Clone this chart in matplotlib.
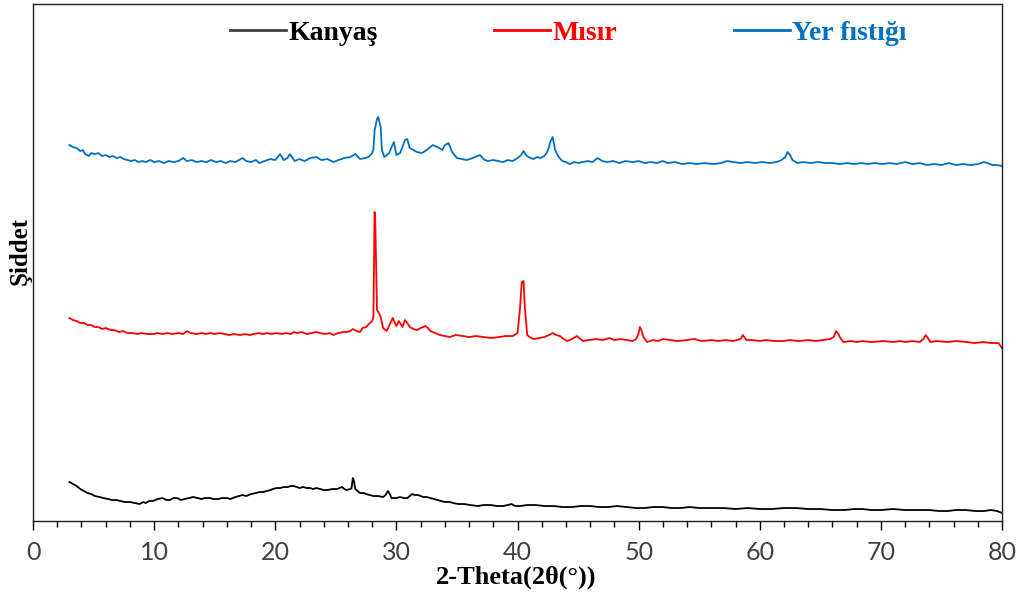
import numpy as np
import matplotlib
matplotlib.use("Agg")
import matplotlib.pyplot as plt
from matplotlib.ticker import MultipleLocator

# (2-theta in deg, intensity in arbitrary units)
kanyas = [(3.0, 37), (3.3, 35), (3.6, 33), (3.9, 30), (4.2, 28), (4.5, 26), (4.8, 25), (5.1, 23),
          (5.5, 22), (5.8, 21), (6.2, 20), (6.5, 19), (6.9, 19), (7.2, 18), (7.6, 17), (8.0, 17),
          (8.4, 16), (8.8, 15), (9.1, 17), (9.3, 16), (9.6, 18), (9.9, 18), (10.3, 20), (10.7, 21),
          (11.0, 19), (11.3, 19), (11.6, 21), (11.9, 21), (12.2, 19), (12.5, 20), (12.9, 21),
          (13.2, 22), (13.6, 21), (13.9, 20), (14.2, 21), (14.6, 21), (14.9, 20), (15.3, 20),
          (15.6, 21), (16.0, 21), (16.3, 20), (16.7, 22), (17.0, 23), (17.3, 24), (17.6, 23),
          (18.0, 25), (18.4, 26), (18.7, 27), (19.0, 27), (19.3, 28), (19.6, 29), (19.8, 30),
          (20.1, 31), (20.4, 31), (20.7, 32), (21.0, 32), (21.3, 33), (21.5, 33), (21.8, 32),
          (22.0, 31), (22.3, 32), (22.6, 31), (22.9, 31), (23.1, 30), (23.4, 31), (23.7, 30),
          (24.0, 29), (24.3, 29), (24.7, 30), (25.1, 30), (25.3, 31), (25.5, 32), (25.7, 30),
          (25.9, 29), (26.2, 30), (26.3, 31), (26.4, 41), (26.5, 38), (26.6, 30), (26.8, 28),
          (27.0, 26), (27.3, 26), (27.5, 25), (27.8, 24), (28.1, 23), (28.5, 23), (28.9, 22),
          (29.1, 24), (29.3, 28), (29.45, 25), (29.6, 21), (30.0, 21), (30.3, 22), (30.6, 21),
          (30.9, 21), (31.1, 23), (31.3, 25), (31.5, 24), (31.8, 24), (32.0, 23), (32.2, 22),
          (32.5, 22), (32.8, 21), (33.1, 20), (33.4, 19), (33.7, 18), (34.0, 17), (34.4, 17),
          (34.7, 16), (35.1, 15), (35.6, 15), (36.1, 14), (36.7, 13), (37.2, 14), (37.8, 14),
          (38.3, 13), (38.8, 13), (39.2, 14), (39.5, 15), (39.8, 13), (40.2, 13), (40.8, 14),
          (41.5, 14), (42.2, 13), (43.0, 13), (43.7, 12), (44.5, 12), (45.2, 13), (46.0, 13),
          (46.7, 12), (47.5, 12), (48.2, 13), (49.0, 12), (49.8, 11), (50.5, 11), (51.2, 12),
          (52.0, 12), (52.7, 11), (53.5, 11), (54.2, 12), (55.0, 11), (56.0, 11), (57.0, 11),
          (58.0, 10), (59.0, 11), (60.0, 10), (61.0, 10), (62.0, 11), (63.0, 11), (64.0, 10),
          (65.0, 10), (66.0, 9), (67.0, 9), (67.8, 10), (68.5, 10), (69.2, 9), (70.0, 9),
          (71.0, 10), (72.0, 9), (73.0, 9), (74.0, 9), (74.8, 8), (75.5, 8), (76.2, 9), (77.0, 9),
          (77.8, 8), (78.5, 8), (79.1, 9), (79.6, 8), (80.0, 6)]

misir = [(3.0, 201), (3.3, 199), (3.6, 198), (3.9, 196), (4.2, 196), (4.5, 194), (4.8, 194),
         (5.1, 192), (5.4, 192), (5.7, 190), (6.0, 191), (6.4, 189), (6.7, 189), (7.1, 187),
         (7.4, 188), (7.8, 186), (8.2, 186), (8.6, 185), (9.0, 186), (9.4, 185), (9.9, 185),
         (10.3, 186), (10.7, 185), (11.1, 186), (11.5, 185), (12.0, 186), (12.4, 185), (12.7, 188),
         (13.0, 186), (13.5, 185), (13.9, 186), (14.3, 185), (14.6, 186), (15.0, 185), (15.4, 186),
         (15.8, 185), (16.2, 184), (16.6, 185), (17.1, 184), (17.5, 185), (17.9, 184), (18.2, 185),
         (18.6, 186), (19.0, 185), (19.3, 186), (19.7, 185), (20.1, 186), (20.5, 185), (20.9, 186),
         (21.3, 185), (21.5, 187), (21.8, 186), (22.2, 187), (22.6, 185), (23.0, 186), (23.4, 187),
         (23.7, 186), (24.1, 185), (24.5, 186), (24.8, 184), (25.2, 186), (25.6, 187), (25.9, 187),
         (26.2, 188), (26.4, 190), (26.7, 188), (27.0, 187), (27.2, 191), (27.5, 192), (27.8, 196),
         (28.0, 198), (28.1, 202), (28.15, 252), (28.2, 307), (28.25, 300), (28.3, 269),
         (28.4, 209), (28.6, 205), (28.7, 202), (28.9, 191), (29.2, 188), (29.5, 196), (29.7, 201),
         (30.0, 193), (30.2, 198), (30.5, 192), (30.7, 199), (30.9, 196), (31.1, 192), (31.4, 190),
         (31.7, 189), (32.0, 191), (32.4, 193), (32.6, 191), (32.8, 188), (33.2, 186), (33.6, 184),
         (34.0, 183), (34.4, 182), (34.9, 184), (35.5, 183), (36.0, 182), (36.6, 183), (37.2, 182),
         (37.8, 181), (38.5, 182), (39.0, 183), (39.6, 183), (40.0, 186), (40.2, 210),
         (40.35, 237), (40.5, 238), (40.6, 212), (40.8, 184), (41.0, 182), (41.3, 180), (41.8, 181),
         (42.2, 182), (42.6, 184), (42.9, 186), (43.2, 184), (43.5, 183), (43.8, 180), (44.1, 178),
         (44.5, 180), (44.9, 183), (45.1, 181), (45.4, 178), (45.9, 179), (46.5, 180), (47.0, 179),
         (47.6, 181), (48.0, 179), (48.5, 180), (49.0, 179), (49.5, 178), (49.8, 180), (50.0, 186),
         (50.1, 192), (50.25, 188), (50.4, 182), (50.7, 177), (51.2, 179), (51.6, 178), (52.0, 180),
         (52.6, 179), (53.2, 178), (54.0, 179), (54.6, 180), (55.2, 178), (56.0, 179), (56.6, 178),
         (57.2, 179), (57.8, 178), (58.4, 180), (58.6, 184), (58.9, 179), (59.4, 179), (60.0, 178),
         (60.5, 179), (61.2, 178), (61.9, 178), (62.5, 179), (63.2, 178), (64.0, 179), (64.6, 178),
         (65.2, 179), (65.8, 180), (66.1, 182), (66.3, 188), (66.5, 185), (66.6, 182), (66.9, 177),
         (67.5, 178), (68.0, 177), (68.5, 178), (69.2, 177), (70.2, 178), (71.0, 177), (71.6, 178),
         (72.0, 177), (72.6, 178), (73.2, 177), (73.5, 180), (73.7, 184), (74.1, 177), (74.6, 178),
         (75.5, 177), (76.2, 178), (77.1, 177), (77.7, 176), (78.5, 177), (79.1, 176), (79.7, 176),
         (80.0, 171)]

yer_fistigi = [(3.0, 374), (3.3, 372), (3.6, 371), (3.9, 368), (4.1, 369), (4.3, 365), (4.6, 363),
               (4.8, 366), (5.1, 365), (5.4, 366), (5.7, 363), (6.0, 364), (6.3, 362), (6.6, 363),
               (6.9, 361), (7.2, 362), (7.5, 360), (7.8, 359), (8.1, 358), (8.4, 359), (8.7, 357),
               (9.0, 358), (9.3, 357), (9.7, 359), (10.0, 357), (10.4, 358), (10.8, 356), (11.2, 358),
               (11.6, 357), (12.0, 358), (12.4, 361), (12.7, 358), (13.1, 359), (13.5, 357),
               (13.9, 358), (14.3, 357), (14.7, 359), (15.1, 357), (15.5, 358), (15.9, 356),
               (16.3, 358), (16.7, 357), (17.0, 359), (17.3, 361), (17.6, 358), (18.0, 357),
               (18.4, 359), (18.7, 356), (19.1, 358), (19.6, 360), (20.0, 359), (20.4, 365),
               (20.7, 359), (21.0, 361), (21.2, 365), (21.6, 358), (22.0, 360), (22.4, 358),
               (22.9, 361), (23.4, 362), (23.8, 359), (24.3, 360), (24.8, 357), (25.2, 359),
               (25.7, 361), (26.2, 362), (26.6, 365), (27.0, 360), (27.4, 361), (27.7, 362),
               (28.0, 366), (28.1, 370), (28.2, 389), (28.4, 400), (28.5, 402), (28.7, 392),
               (28.8, 369), (29.0, 362), (29.2, 364), (29.4, 366), (29.6, 372), (29.8, 377),
               (30.0, 364), (30.3, 366), (30.5, 372), (30.7, 379), (30.9, 380), (31.1, 371),
               (31.4, 369), (31.7, 367), (32.1, 366), (32.5, 369), (32.8, 372), (33.0, 374),
               (33.4, 372), (33.8, 369), (34.0, 374), (34.3, 376), (34.6, 367), (35.0, 361),
               (35.4, 360), (35.8, 359), (36.3, 361), (36.9, 364), (37.2, 360), (37.5, 358),
               (38.0, 359), (38.4, 358), (38.8, 357), (39.2, 359), (39.6, 358), (40.0, 361),
               (40.3, 364), (40.5, 368), (40.7, 364), (40.9, 362), (41.3, 360), (41.6, 362),
               (41.9, 361), (42.2, 363), (42.4, 366), (42.6, 372), (42.7, 377), (42.9, 382),
               (43.0, 376), (43.1, 369), (43.4, 362), (43.7, 358), (44.0, 357), (44.3, 355),
               (44.7, 357), (45.0, 356), (45.4, 357), (45.8, 358), (46.2, 357), (46.6, 361),
               (47.0, 358), (47.4, 357), (47.9, 358), (48.4, 356), (48.9, 358), (49.5, 357),
               (50.0, 358), (50.5, 356), (51.0, 357), (51.5, 356), (52.0, 358), (52.4, 356),
               (53.0, 357), (53.6, 355), (54.2, 356), (54.8, 355), (55.4, 356), (56.2, 355),
               (56.8, 356), (57.3, 358), (57.8, 357), (58.4, 356), (59.0, 357), (59.6, 356),
               (60.2, 357), (60.8, 356), (61.4, 357), (61.8, 359), (62.1, 362), (62.3, 367),
               (62.5, 364), (62.7, 359), (63.1, 356), (63.6, 357), (64.2, 356), (64.8, 357),
               (65.4, 356), (66.0, 356), (66.6, 355), (67.2, 356), (67.8, 355), (68.4, 356),
               (68.9, 355), (69.5, 356), (70.1, 355), (70.7, 356), (71.3, 355), (72.0, 357),
               (72.6, 355), (73.2, 356), (73.8, 354), (74.4, 355), (75.0, 354), (75.6, 356),
               (76.2, 354), (76.8, 355), (77.4, 354), (78.0, 355), (78.5, 357), (78.8, 356),
               (79.2, 354), (79.6, 354), (80.0, 353)]

labels = ["Kanyaş", "Mısır", "Yer fıstığı"]
colors = ["#000000", "#FF0000", "#0070C0"]
xticks = [0, 10, 20, 30, 40, 50, 60, 70, 80]

serif = ["Liberation Serif", "DejaVu Serif"]

fig = plt.figure(figsize=(10.23, 5.96), dpi=100)
ax = fig.add_axes([0.0323, 0.1258, 0.9472, 0.8674])

for series, lab, col in zip([kanyas, misir, yer_fistigi], labels, colors):
    xs, ys = np.array(series).T
    ax.plot(xs, ys, color=col, lw=1.3, label=lab)

ax.set_xlim(0, 80)
ax.set_ylim(-2, 515)
ax.set_xticks(xticks)
ax.xaxis.set_minor_locator(MultipleLocator(2))
ax.tick_params(axis="x", which="major", direction="out", length=6.5, width=1, pad=8,
               labelsize=18, labelcolor="#404040")
ax.tick_params(axis="x", which="minor", direction="out", length=4.5, width=1)
ax.tick_params(axis="y", left=False, labelleft=False)
for lab in ax.get_xticklabels():
    lab.set_fontfamily(["Lato", "DejaVu Sans"])
for sp in ax.spines.values():
    sp.set_linewidth(1.0)
    sp.set_color("#222222")

ax.set_xlabel("2-Theta(2θ(°))", fontsize=19, fontweight="bold", family=serif)
ax.xaxis.set_label_coords(0.4985, -0.108)
ax.xaxis.label.set_verticalalignment("center")
ax.set_ylabel("Şiddet", fontsize=18, fontweight="bold", family=serif)
ax.yaxis.set_label_coords(-0.0134, 0.522)
ax.yaxis.label.set_verticalalignment("center")

leg = ax.legend(loc="center", bbox_to_anchor=(0.5526, 0.9437), ncol=3, frameon=False,
                handlelength=2.0, handletextpad=0.1, columnspacing=4.2,
                prop={"family": serif, "weight": "bold", "size": 20})
for txt, col in zip(leg.get_texts(), colors):
    txt.set_color(col)
for ln in leg.get_lines():
    ln.set_linewidth(2.0)
leg.get_lines()[0].set_color("#404040")

fig.savefig("out.png", dpi=100)
